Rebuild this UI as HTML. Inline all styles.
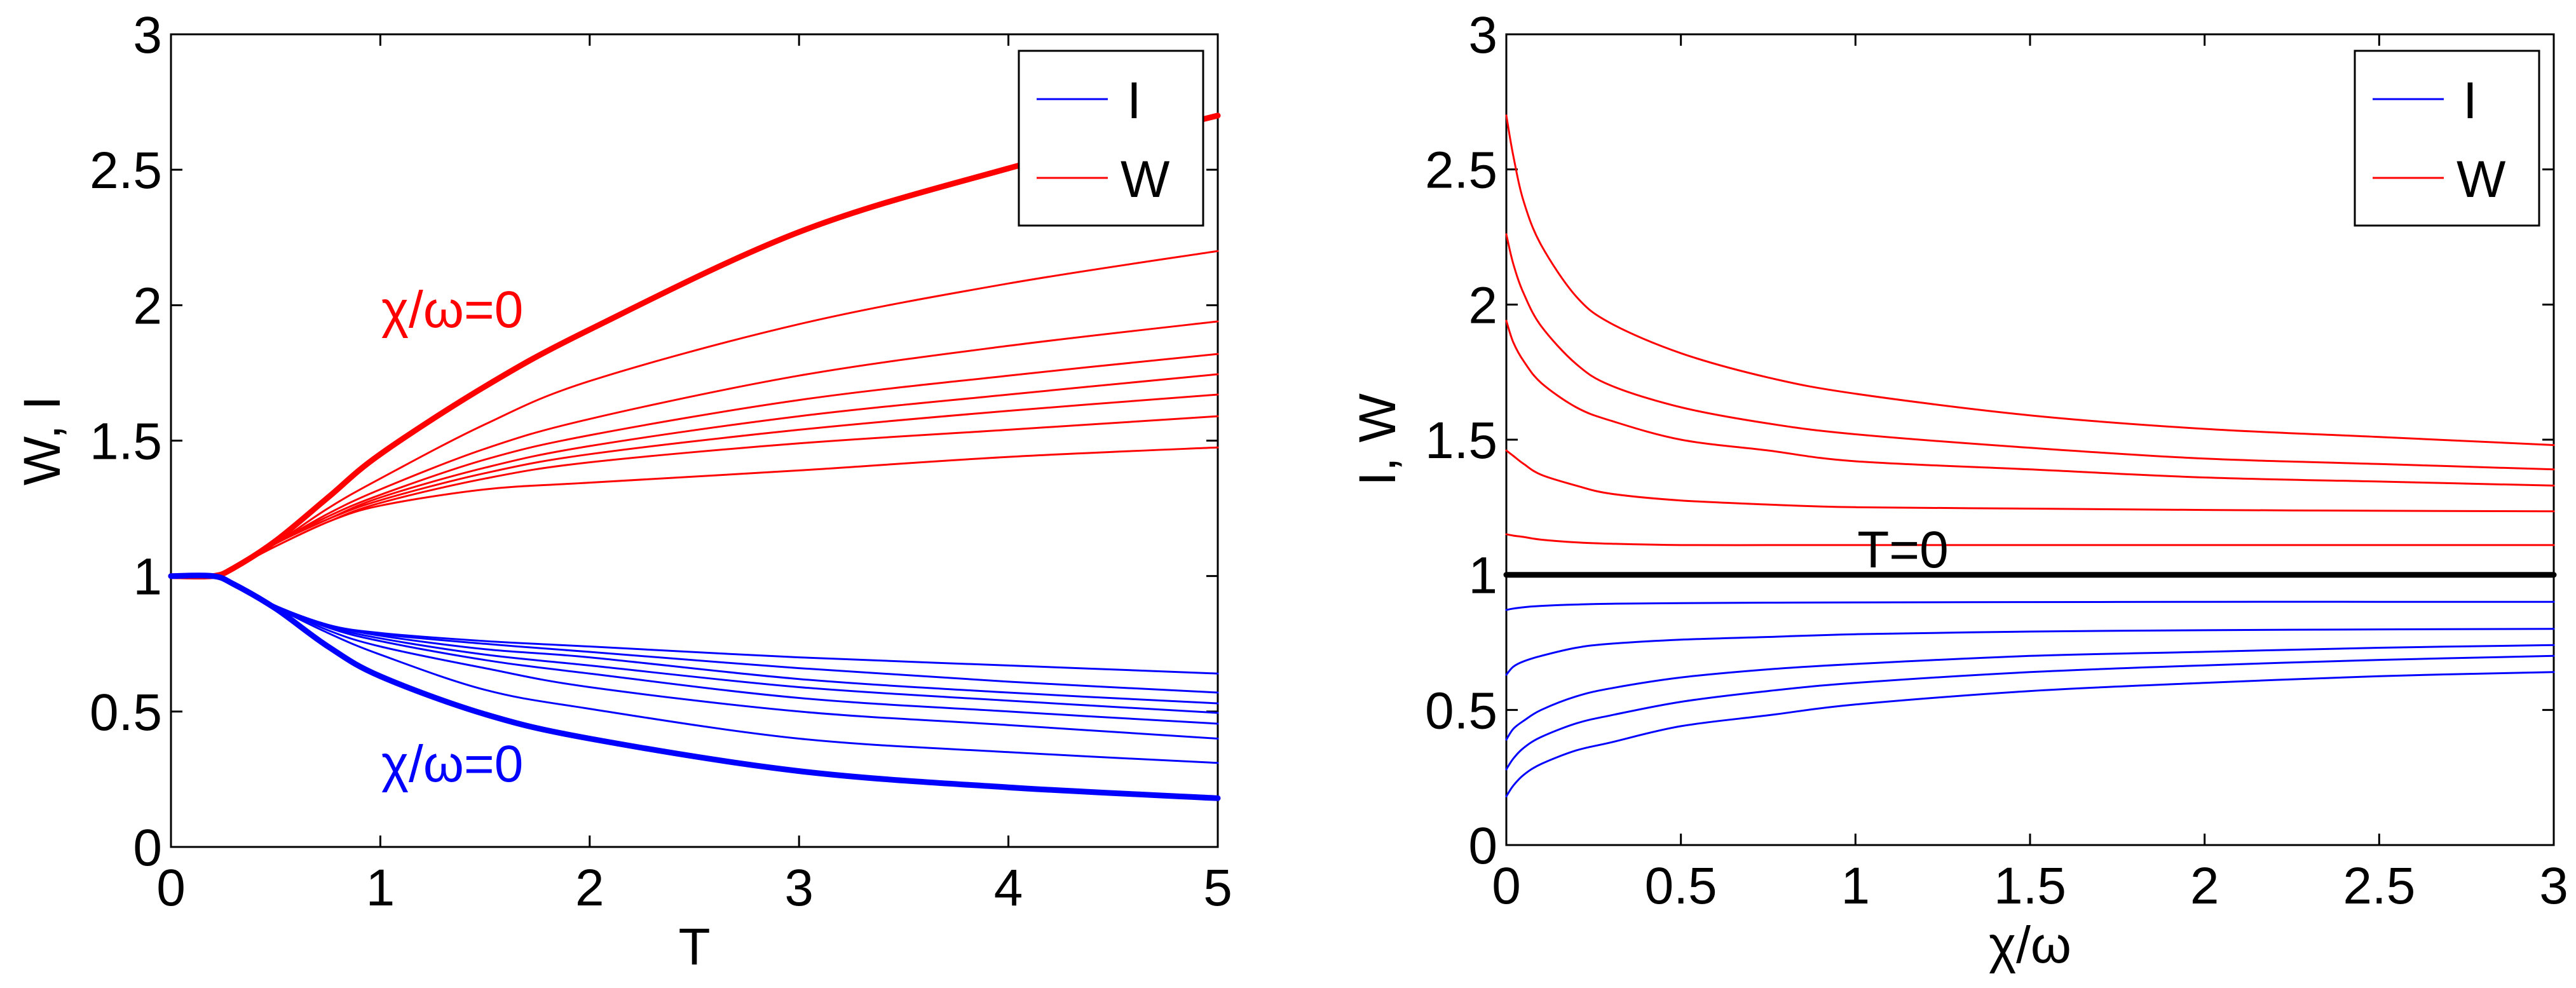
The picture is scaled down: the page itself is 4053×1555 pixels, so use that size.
<!DOCTYPE html>
<html><head><meta charset="utf-8"><style>
html,body{margin:0;padding:0;background:#fff;}
svg{display:block;font-family:"Liberation Sans",sans-serif;}
</style></head><body>
<svg id="fig" width="4053" height="1555" viewBox="0 0 4053 1555" xmlns="http://www.w3.org/2000/svg">
<g id="p1"></g>
<g id="p2"></g>
</svg>
<script>
// Left panel data
const leftT = [0, 0.2, 0.3, 0.5, 0.75, 1, 1.5, 2, 3, 4, 5];
const leftW = [
 [1,1,1.03,1.13,1.29,1.45,1.70,1.91,2.27,2.505,2.70],
 [1,1,1.03,1.12,1.25,1.36,1.56,1.72,1.93,2.08,2.20],
 [1,1,1.03,1.12,1.23,1.32,1.47,1.58,1.74,1.85,1.94],
 [1,1,1.03,1.12,1.22,1.30,1.43,1.52,1.65,1.74,1.82],
 [1,1,1.03,1.12,1.21,1.29,1.40,1.48,1.59,1.67,1.745],
 [1,1,1.03,1.12,1.21,1.28,1.38,1.45,1.54,1.61,1.67],
 [1,1,1.03,1.11,1.20,1.27,1.36,1.42,1.49,1.54,1.59],
 [1,1,1.03,1.11,1.20,1.26,1.32,1.345,1.39,1.44,1.475]
];
const leftI = [
 [1,1,0.97,0.88,0.74,0.63,0.49,0.40,0.28,0.22,0.18],
 [1,1,0.97,0.885,0.79,0.71,0.58,0.51,0.40,0.35,0.31],
 [1,1,0.97,0.89,0.80,0.74,0.66,0.59,0.50,0.45,0.40],
 [1,1,0.97,0.89,0.81,0.76,0.69,0.64,0.55,0.50,0.455],
 [1,1,0.97,0.89,0.815,0.77,0.71,0.67,0.59,0.54,0.495],
 [1,1,0.97,0.89,0.82,0.78,0.73,0.70,0.62,0.57,0.53],
 [1,1,0.97,0.89,0.82,0.785,0.75,0.72,0.66,0.61,0.57],
 [1,1,0.97,0.89,0.82,0.79,0.76,0.74,0.70,0.67,0.64]
];
const leftXTicks = ["0","1","2","3","4","5"];
const yTicks = ["0","0.5","1","1.5","2","2.5","3"];
// Right panel data
const rightX = [0,0.02,0.05,0.1,0.2,0.3,0.5,0.75,1,1.5,2,2.5,3];
const rightW = [
 [2.70,2.55,2.38,2.22,2.03,1.93,1.82,1.73,1.67,1.59,1.54,1.51,1.48],
 [2.26,2.15,2.04,1.92,1.78,1.70,1.62,1.56,1.52,1.47,1.43,1.41,1.39],
 [1.94,1.86,1.79,1.71,1.62,1.57,1.50,1.46,1.42,1.39,1.36,1.345,1.33],
 [1.46,1.44,1.41,1.37,1.33,1.30,1.275,1.26,1.25,1.245,1.24,1.237,1.235],
 [1.15,1.145,1.14,1.13,1.12,1.115,1.11,1.11,1.11,1.11,1.11,1.11,1.11]
];
const rightI = [
 [0.87,0.875,0.88,0.885,0.89,0.893,0.895,0.897,0.898,0.899,0.9,0.9,0.9],
 [0.63,0.66,0.68,0.70,0.73,0.745,0.76,0.77,0.78,0.79,0.795,0.798,0.80],
 [0.39,0.43,0.46,0.50,0.55,0.58,0.62,0.65,0.67,0.70,0.715,0.73,0.74],
 [0.28,0.32,0.36,0.40,0.45,0.48,0.53,0.57,0.60,0.64,0.665,0.685,0.70],
 [0.18,0.22,0.26,0.30,0.35,0.38,0.44,0.48,0.52,0.57,0.60,0.625,0.64]
];
const rightXTicks = ["0","0.5","1","1.5","2","2.5","3"];
const rightRef = [1];

const NS="http://www.w3.org/2000/svg";
function mk(parent,tag,attrs,text){const e=document.createElementNS(NS,tag);for(const k in attrs)e.setAttribute(k,attrs[k]);if(text!==undefined)e.textContent=text;parent.appendChild(e);return e;}

function panel(g,x0,x1,y0,y1,xmax,xTicks,ylabel,xlabel){
 const sx=v=>x0+(v/xmax)*(x1-x0);
 const sy=v=>y1-(v/3)*(y1-y0);
 const ax=mk(g,'rect',{x:x0,y:y0,width:x1-x0,height:y1-y0,fill:'none',stroke:'#000','stroke-width':3});
 
 
 xTicks.forEach(t=>{const v=parseFloat(t),X=sx(v);
  mk(g,'line',{x1:X,y1:y1,x2:X,y2:y1-18,stroke:'#000','stroke-width':3});
  mk(g,'line',{x1:X,y1:y0,x2:X,y2:y0+18,stroke:'#000','stroke-width':3});
  const tx=mk(g,'text',{x:X,y:y1+92,'font-size':82,'text-anchor':'middle'},t);
  
  });
 yTicks.forEach(t=>{const v=parseFloat(t),Y=sy(v);
  mk(g,'line',{x1:x0,y1:Y,x2:x0+18,y2:Y,stroke:'#000','stroke-width':3});
  mk(g,'line',{x1:x1,y1:Y,x2:x1-18,y2:Y,stroke:'#000','stroke-width':3});
  const ty=mk(g,'text',{x:x0-14,y:Y+29,'font-size':82,'text-anchor':'end'},t);
  
  });
 const yl=mk(g,'text',{x:0,y:0,'font-size':82,'text-anchor':'middle',transform:`translate(${x0-175},${(y0+y1)/2}) rotate(-90)`},ylabel);
 
 
 const xl=mk(g,'text',{x:(x0+x1)/2,y:y1+185,'font-size':82,'text-anchor':'middle'},xlabel);
 
 
 return {sx,sy};
}
function series(g,xs,ys,sx,sy,color,w,name){
 const P=xs.map((x,i)=>[sx(x),sy(ys[i])]);
 let d='M'+P[0][0].toFixed(1)+','+P[0][1].toFixed(1);
 for(let i=0;i<P.length-1;i++){
  const p0=P[Math.max(0,i-1)],p1=P[i],p2=P[i+1],p3=P[Math.min(P.length-1,i+2)];
  const c1=[p1[0]+(p2[0]-p0[0])/6,p1[1]+(p2[1]-p0[1])/6];
  const c2=[p2[0]-(p3[0]-p1[0])/6,p2[1]-(p3[1]-p1[1])/6];
  d+=` C${c1[0].toFixed(1)},${c1[1].toFixed(1)} ${c2[0].toFixed(1)},${c2[1].toFixed(1)} ${p2[0].toFixed(1)},${p2[1].toFixed(1)}`;
 }
 const p=mk(g,'path',{d:d,fill:'none',stroke:color,'stroke-width':w,'stroke-linejoin':'round','stroke-linecap':'round'});
 
 
}
function legend(g,x,y){
 const r=mk(g,'rect',{x:x,y:y,width:290,height:275,fill:'#fff',stroke:'#000','stroke-width':3});
 
 
 mk(g,'line',{x1:x+28,y1:y+76,x2:x+140,y2:y+76,stroke:'#00f','stroke-width':3});
 const a=mk(g,'text',{x:x+170,y:y+106,'font-size':82},'I');
 
 
 mk(g,'line',{x1:x+28,y1:y+200,x2:x+140,y2:y+200,stroke:'#f00','stroke-width':3});
 const b=mk(g,'text',{x:x+160,y:y+230,'font-size':82},'W');
 
 
}
const g1=document.getElementById('p1'), g2=document.getElementById('p2');
const L=panel(g1,269,1916,54,1333,5,leftXTicks,'W, I','T');
leftW.forEach((s,i)=>series(g1,leftT,s,L.sx,L.sy,'#f00',i===0?9:3,'w-curve'));
leftI.forEach((s,i)=>series(g1,leftT,s,L.sx,L.sy,'#00f',i===0?9:3,'i-curve'));
let t=mk(g1,'text',{x:600,y:515,'font-size':82,fill:'#f00'},'χ/ω=0');


t=mk(g1,'text',{x:600,y:1230,'font-size':82,fill:'#00f'},'χ/ω=0');


legend(g1,1603,80);

const R=panel(g2,2370,4018,54,1330,3,rightXTicks,'I, W','χ/ω');
rightW.forEach(s=>series(g2,rightX,s,R.sx,R.sy,'#f00',3,'w-curve'));
rightI.forEach(s=>series(g2,rightX,s,R.sx,R.sy,'#00f',3,'i-curve'));
rightRef.forEach(v=>series(g2,[0,3],[v,v],R.sx,R.sy,'#000',9,'t0-line'));
t=mk(g2,'text',{x:2994,y:893,'font-size':82,'text-anchor':'middle'},'T=0');


legend(g2,3705,80);
</script>
</body></html>
